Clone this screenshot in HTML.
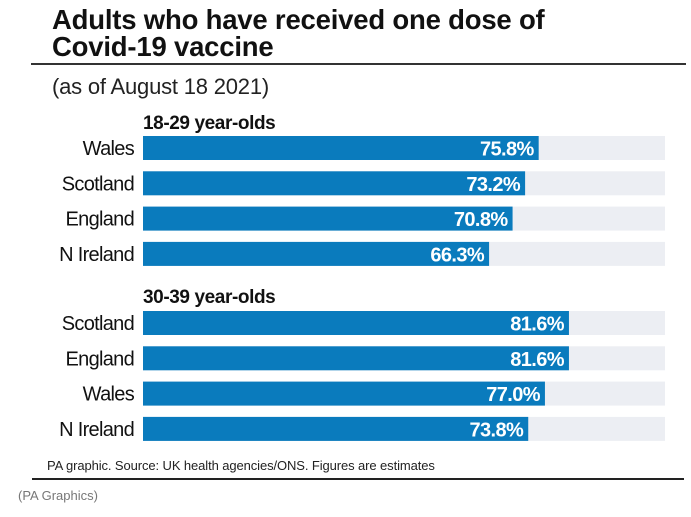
<!DOCTYPE html>
<html><head><meta charset="utf-8"><style>
body{margin:0;background:#fff;width:691px;height:512px;overflow:hidden}
svg text{font-family:"Liberation Sans",sans-serif}
</style></head><body>
<svg width="691" height="512">
<text x="52" y="29" font-size="27.5" font-weight="bold" letter-spacing="-0.2" fill="#111">Adults who have received one dose of</text>
<text x="52" y="56" font-size="27.5" font-weight="bold" letter-spacing="-0.2" fill="#111">Covid-19 vaccine</text>
<rect x="31" y="63" width="655" height="2" fill="#333"/>
<text x="52" y="94" font-size="22" letter-spacing="-0.2" fill="#222">(as of August 18 2021)</text>
<g id="bars"></g>
<text x="47" y="470" font-size="13" letter-spacing="-0.1" fill="#222">PA graphic. Source: UK health agencies/ONS. Figures are estimates</text>
<rect x="32" y="478" width="652" height="2" fill="#222"/>
<text x="18" y="500" font-size="13" fill="#777">(PA Graphics)</text>
</svg>
<script>
const groups=["18-29 year-olds","30-39 year-olds"];
const cats1=["Wales","Scotland","England","N Ireland"];
const vals1=[75.8,73.2,70.8,66.3];
const cats2=["Scotland","England","Wales","N Ireland"];
const vals2=[81.6,81.6,77.0,73.8];
const x0=143,x1=665;
const xs=v=>x0+(x1-x0)*v/100;
const g=document.getElementById('bars');
const NS="http://www.w3.org/2000/svg";
function mk(t,a){const e=document.createElementNS(NS,t);for(const k in a)e.setAttribute(k,a[k]);g.appendChild(e);return e;}
function drawGroup(title,cats,vals,titleY,firstY){
  const t=mk('text',{x:143,y:titleY,'font-size':19,'font-weight':'bold','letter-spacing':'-0.4',fill:'#111'});
  t.textContent=title;
  
  
  cats.forEach((c,i)=>{
    const y=firstY+i*35.3;
    const tr=mk('rect',{x:x0,y:y,width:x1-x0,height:24,fill:'#eceef3'});
    
    
    const b=mk('rect',{x:x0,y:y,width:xs(vals[i])-x0,height:24,fill:'#0a7bbd'});
    
    
    const l=mk('text',{x:134,y:y+19,'font-size':20,'letter-spacing':'-0.7','text-anchor':'end',fill:'#111'});
    l.textContent=c;
    
    
    const v=mk('text',{x:xs(vals[i])-5,y:y+19.5,'font-size':20,'font-weight':'bold','letter-spacing':'-0.6','text-anchor':'end',fill:'#fff'});
    v.textContent=vals[i].toFixed(1)+'%';
    
    
  });
}
drawGroup(groups[0],cats1,vals1,129,136);
drawGroup(groups[1],cats2,vals2,303,311);
</script>
</body></html>
